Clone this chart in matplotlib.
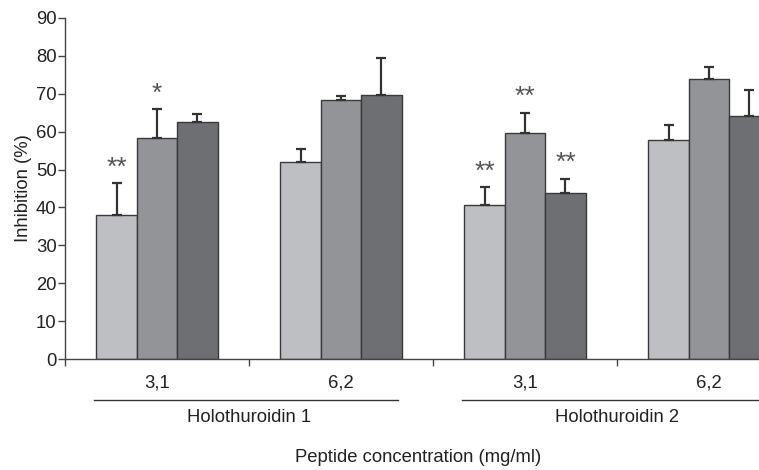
import matplotlib
matplotlib.use("Agg")
import matplotlib.pyplot as plt
import matplotlib.transforms as mtransforms
import numpy as np

plt.rcParams['font.family'] = ['Liberation Sans', 'DejaVu Sans']

# Data
peptides = ["Holothuroidin 1", "Holothuroidin 2"]
concentrations = ["3,1", "6,2", "3,1", "6,2"]
series_a = [38.0, 52.0, 40.7, 57.8]
series_b = [58.2, 68.3, 59.7, 73.8]
series_c = [62.4, 69.7, 43.9, 64.2]
err_a = [8.4, 3.3, 4.6, 4.0]
err_b = [7.7, 1.1, 5.3, 3.1]
err_c = [2.1, 9.6, 3.6, 6.7]
stars_a = ["**", "", "**", ""]
stars_b = ["*", "", "**", ""]
stars_c = ["", "", "**", ""]
y_ticks = [0, 10, 20, 30, 40, 50, 60, 70, 80, 90]

FS = 13.3
TXT = "#222222"
W, H = 759, 470
fig = plt.figure(figsize=(W / 100, H / 100), dpi=100)
left_px, right_px, top_px, bottom_px = 65, 801, 17.7, 359.3
ax = fig.add_axes([left_px / W, 1 - bottom_px / H, (right_px - left_px) / W, (bottom_px - top_px) / H])

x = np.arange(len(concentrations))
bw = 0.22
colors = ["#bebfc3", "#939498", "#6e6f73"]
edge = "#3a3a3a"
series = [series_a, series_b, series_c]
errs = [err_a, err_b, err_c]
stars = [stars_a, stars_b, stars_c]
for i, (vals, e, st, c) in enumerate(zip(series, errs, stars, colors)):
    pos = x + (i - 1) * bw
    ax.bar(pos, vals, width=bw, color=c, edgecolor=edge, linewidth=1.0, zorder=2)
    ax.errorbar(pos, vals, yerr=[np.zeros(len(vals)), e], fmt='none', ecolor="#333333",
                elinewidth=1.6, capsize=3.3, capthick=1.6, zorder=3)
    for p, v, ee, s in zip(pos, vals, e, st):
        if s:
            ax.text(p, v + ee + 2.3, s, ha='center', va='baseline', fontsize=19,
                    color="#555555")

ax.set_xlim(-0.5, 3.5)
ax.set_ylim(0, 90)
ax.set_yticks(y_ticks)
ax.set_yticklabels([str(t) for t in y_ticks], fontsize=FS, color=TXT)
ax.set_xticks([-0.5, 0.5, 1.5, 2.5, 3.5])
ax.set_xticklabels([])
ax.tick_params(axis='both', direction='out', length=5, width=1, color="#444444")
ax.tick_params(axis='y', pad=1)
for s in ['top', 'right']:
    ax.spines[s].set_visible(False)
for s in ['left', 'bottom']:
    ax.spines[s].set_color("#444444")
    ax.spines[s].set_linewidth(1.0)
ax.set_ylabel("Inhibition (%)", fontsize=FS, color=TXT, labelpad=3)


def fy(py):
    return 1 - py / H


blend = mtransforms.blended_transform_factory(ax.transData, fig.transFigure)
for xi, lab in zip(x, concentrations):
    ax.text(xi, fy(383), lab, transform=blend, ha='center', va='center', fontsize=FS,
            color=TXT, clip_on=False)
for k, name in enumerate(peptides):
    x0, x1 = -0.34 + 2 * k, 1.31 + 2 * k
    ax.plot([x0, x1], [fy(399.5), fy(399.5)], transform=blend, color="#333333",
            linewidth=1.0, clip_on=False)
    ax.text(2 * k + 0.5, fy(417), name, transform=blend, ha='center', va='center',
            fontsize=FS, color=TXT, clip_on=False)

fig.text(418 / W, fy(457), "Peptide concentration (mg/ml)", ha='center', va='center',
         fontsize=FS, color=TXT)

fig.savefig("out.png", dpi=100)
